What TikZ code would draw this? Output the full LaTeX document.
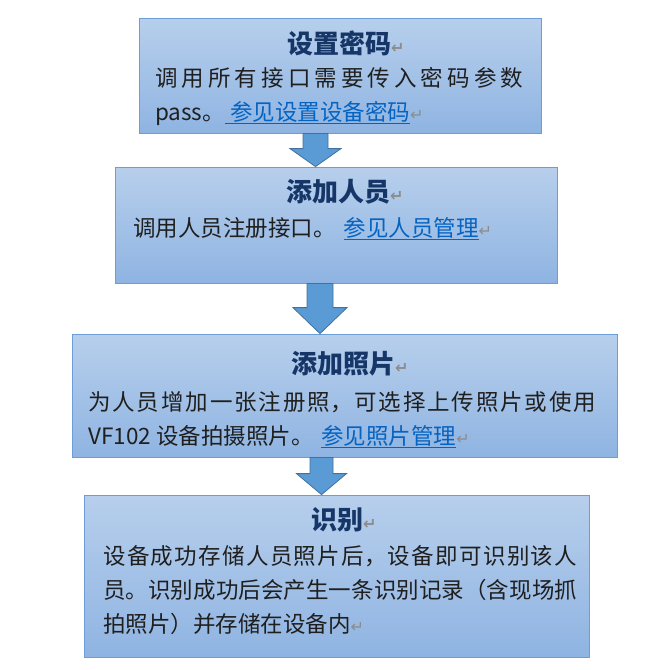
\documentclass[tikz,border=0pt]{standalone}
\usepackage{fontspec}
\setmainfont{Noto Sans CJK SC}
\newfontfamily\retmarkfont{DejaVu Sans}
\usetikzlibrary{calc}
\definecolor{boxtop}{RGB}{183,207,236}
\definecolor{boxbottom}{RGB}{143,180,226}
\definecolor{boxline}{RGB}{108,157,214}
\definecolor{arrowfill}{RGB}{91,155,213}
\definecolor{arrowline}{RGB}{65,113,156}
\definecolor{titlecol}{RGB}{23,54,104}
\definecolor{linkcol}{RGB}{5,99,193}
\definecolor{retmarkcol}{RGB}{140,140,140}
\XeTeXlinebreaklocale "zh"
\XeTeXlinebreakskip=0pt plus 2pt
\tolerance=10000
\hbadness=10000
\setlength\parindent{0pt}
\newcommand\retmark{\rlap{\retmarkfont\color{retmarkcol}\fontsize{16}{16}\selectfont ↵}}
\newcommand\seelink[1]{{\color{linkcol}\underline{#1}}}
\begin{document}
\begin{tikzpicture}[x=1pt,y=-1pt,
		stepbox/.style={draw=boxline,line width=0.8pt,top color=boxtop,bottom color=boxbottom,inner sep=0pt},
		steptitle/.style={font=\bfseries\fontsize{26}{26}\selectfont,text=titlecol,inner sep=0pt},
		steptext/.style={font=\fontsize{22.5}{34}\selectfont,text=black!88,align=justify,inner sep=0pt,anchor=north west},
		blockarrow/.style={draw=arrowline,fill=arrowfill,line width=0.8pt,line join=miter}]
	\useasboundingbox (0,0) rectangle (659,670);
	\foreach \n/\x/\y/\w/\h in {b1/340/75.5/402/115, b2/336/225/442/116, b3/344.5/395.5/545/123, b4/336.5/576/505/162}{
		\node[stepbox,minimum width=\w,minimum height=\h] (\n) at (\x,\y) {};
	}
	\foreach \a/\b/\x/\h/\s/\t in {b1/b2/315.5/18/12.5/25.5, b2/b3/320/26/13/27, b3/b4/321.5/21/11.5/25}{
		\coordinate (ax) at (\x,0);
		\draw[blockarrow] ($(\a.south -| ax)+(-\s,0)$) -- ($(\a.south -| ax)+(\s,0)$) -- ($(\b.north -| ax)+(\s,-\h)$) -- ($(\b.north -| ax)+(\t,-\h)$) -- (\b.north -| ax) -- ($(\b.north -| ax)+(-\t,-\h)$) -- ($(\b.north -| ax)+(-\s,-\h)$) -- cycle;
	}
	\node[steptitle] (t1) at (339,43) {设置密码\retmark};
	\node[steptext,text width=368] (p1) at (155,67) {调用所有接口需要传入密码参数\linebreak pass。\seelink{\ 参见设置设备密码}\retmark};
	\node[steptitle] (t2) at (338,192) {添加人员\retmark};
	\node[steptext,text width=400] (p2) at (133,217) {调用人员注册接口。\hspace{0.35em}\seelink{参见人员管理}\retmark};
	\node[steptitle] (t3) at (343,364) {添加照片\retmark};
	\node[steptext,text width=508] (p3) at (88,391) {为人员增加一张注册照，可选择上传照片或使用\linebreak VF102 设备拍摄照片。\hspace{0.35em}\seelink{参见照片管理}\retmark};
	\node[steptitle] (t4) at (337,520) {识别\retmark};
	\node[steptext,text width=474] (p4) at (103,545) {设备成功存储人员照片后，设备即可识别该人\linebreak 员。识别成功后会产生一条识别记录（含现场抓\linebreak 拍照片）并存储在设备内\retmark};
\end{tikzpicture}
\end{document}
